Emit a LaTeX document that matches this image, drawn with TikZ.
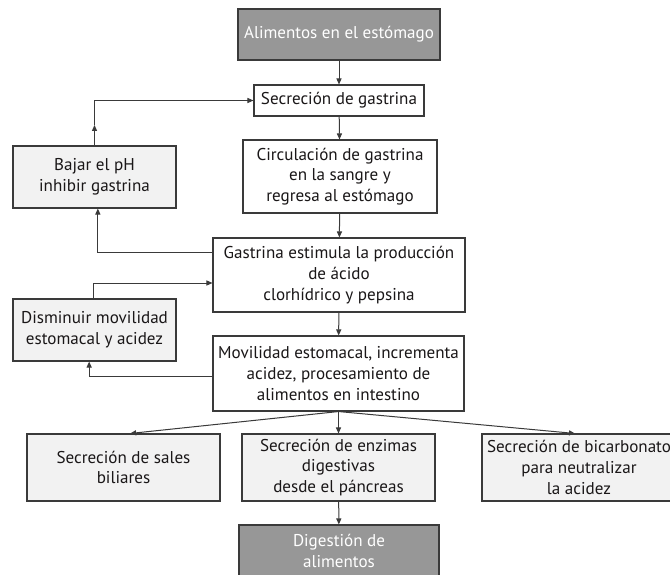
\documentclass[tikz,border=0pt]{standalone}
\usepackage{fontspec}
\setmainfont{PT Sans}
\usetikzlibrary{arrows.meta}

\definecolor{lineclr}{HTML}{3A3A3A}
\definecolor{darkfill}{HTML}{979797}
\definecolor{lightfill}{HTML}{F2F2F2}
\definecolor{txtclr}{HTML}{1A1718}

\begin{document}
\begin{tikzpicture}[x=0.75pt, y=-0.75pt,
        box/.style={draw=lineclr, line width=0.8pt, fill=white, text=txtclr, align=center,
            inner sep=0pt, font=\fontsize{12.8}{15.5}\selectfont},
        darkbox/.style={box, fill=darkfill, text=white},
        lightbox/.style={box, fill=lightfill},
        arr/.style={draw=lineclr, line width=0.75pt, -{Triangle[length=4.5pt, width=3.8pt]}}]
        \useasboundingbox (0, 0) rectangle (670, 574);
        \clip (0, 0) rectangle (670, 574);

        % main column
        \node[darkbox, minimum width=151.5pt, minimum height=38.25pt] (food) at (339, 34.5) {Alimentos en el estómago};
        \node[box, minimum width=127.5pt, minimum height=23.25pt] (secr) at (339, 100.5) {Secreción de gastrina};
        \node[box, minimum width=145.5pt, minimum height=54.75pt] (circ) at (340, 176.5) {Circulación de gastrina\\en la sangre y\\regresa al estómago};
        \node[box, minimum width=189pt, minimum height=55.5pt] (estim) at (339, 275) {Gastrina estimula la producción\\de ácido\\clorhídrico y pepsina};
        \node[box, minimum width=188.25pt, minimum height=56.25pt] (movil) at (338.5, 373.5) {Movilidad estomacal, incrementa\\acidez, procesamiento de\\alimentos en intestino};

        % feedback boxes
        \node[lightbox, minimum width=122.25pt, minimum height=46.5pt] (bajar) at (94.5, 177) {Bajar el pH\\inhibir gastrina};
        \node[lightbox, minimum width=122.25pt, minimum height=46.5pt] (dism) at (94.5, 330) {Disminuir movilidad\\estomacal y acidez};

        % bottom row
        \node[lightbox, minimum width=144.75pt, minimum height=50.25pt] (sales) at (123.5, 467.5) {Secreción de sales\\biliares};
        \node[lightbox, minimum width=144.75pt, minimum height=50.25pt] (enz) at (338.5, 467.5) {Secreción de enzimas\\digestivas\\desde el páncreas};
        \node[lightbox, minimum width=145.5pt, minimum height=50.25pt] (bicarb) at (579, 467.5) {Secreción de bicarbonato\\para neutralizar\\la acidez};
        \node[darkbox, minimum width=150pt, minimum height=39pt] (dig) at (339, 551) {Digestión de\\alimentos};

        \coordinate (mid) at (94.5, 125);

        \draw[arr] (food) -- (secr);
        \draw[arr] (secr) -- (circ);
        \draw[arr] (circ) -- (estim);
        \draw[arr] (estim) -- (movil);

        \draw[arr] (bajar.north) -- (mid);
        \draw[arr] (mid) |- (secr.west);
        \draw[arr] ([yshift=17.25pt]estim.west) -| ([xshift=2.5pt]bajar.south);
        \draw[arr] ([xshift=-1pt]dism.north) |- ([yshift=-6pt]estim.west);
        \draw[arr] ([yshift=-2pt]movil.west) -| ([xshift=-4pt]dism.south);

        \draw[arr] (movil.south) -- ([xshift=5pt]sales.north);
        \draw[arr] (movil.south) -- (enz.north);
        \draw[arr] (movil.south) -- ([xshift=-3pt]bicarb.north);
        \draw[arr] (enz) -- (dig);
    \end{tikzpicture}
\end{document}
